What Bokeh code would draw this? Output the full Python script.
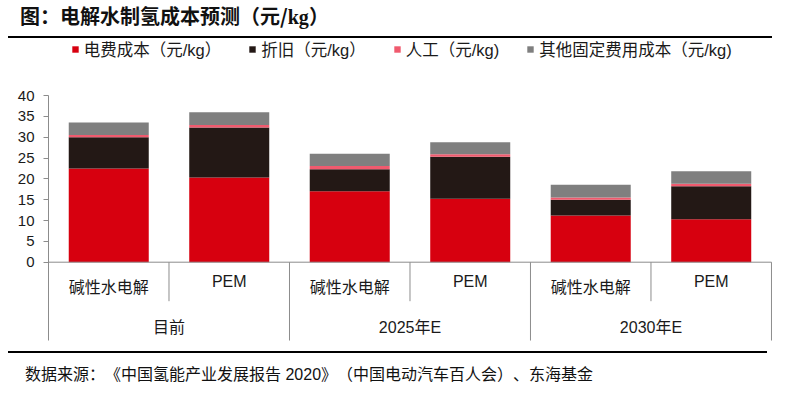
from bokeh.plotting import figure
from bokeh.models import Range1d, FixedTicker, Legend, LegendItem, Div, ColumnDataSource
from bokeh.layouts import column
from bokeh.core.properties import value
from bokeh.embed import file_html
from bokeh.resources import INLINE

# ---- data ----
groups = ["目前", "2025年E", "2030年E"]
techs = ["碱性水电解", "PEM"]
electricity = [22.5, 20.3, 17.0, 15.2, 11.2, 10.3]
depreciation = [7.5, 12.0, 5.3, 10.1, 3.8, 7.9]
labor = [0.5, 0.6, 0.8, 0.6, 0.5, 0.6]
other_fixed = [3.0, 3.1, 2.9, 2.9, 3.1, 3.0]
series_names = ["电费成本（元/kg）", "折旧（元/kg）", "人工（元/kg)", "其他固定费用成本（元/kg)"]
y_ticks = [0, 5, 10, 15, 20, 25, 30, 35, 40]
title_text = "图：电解水制氢成本预测（元/<span style=\"font-family:'Liberation Serif'\">kg</span>）"
footer_text = "数据来源：《中国氢能产业发展报告 2020》（中国电动汽车百人会）、东海基金"

colors = ["#D7000F", "#231815", "#F05A6E", "#7F7F7F"]
axis_color = "#8C8C8C"
text_color = "#1A1A1A"
FONT = "'Liberation Sans', 'Noto Sans CJK SC'"

n_tech = len(techs)
n = len(groups) * n_tech
xs = [i + 0.5 for i in range(n)]
sub_labels = [techs[i % n_tech] for i in range(n)]

src = ColumnDataSource(dict(x=xs, e=electricity, d=depreciation, l=labor, o=other_fixed))

p = figure(width=780, height=311,
           x_range=Range1d(0, n + 0.05), y_range=Range1d(-21.43, 53.2),
           x_axis_location=None, toolbar_location=None, output_backend="svg",
           min_border_left=40, min_border_right=11, min_border_top=0, min_border_bottom=0)
p.outline_line_color = None
p.grid.visible = False
p.background_fill_color = "white"
p.border_fill_color = "white"

rs = p.vbar_stack(["e", "d", "l", "o"], x="x", width=0.664, color=colors,
                  line_color=None, source=src)

ya = p.yaxis[0]
ya.bounds = (-18.8, 40)
ya.ticker = FixedTicker(ticks=y_ticks)
ya.minor_tick_line_color = None
ya.major_tick_in = 0
ya.major_tick_out = 5
ya.axis_line_color = axis_color
ya.major_tick_line_color = axis_color
ya.major_label_text_font = FONT
ya.major_label_text_font_size = "15px"
ya.major_label_text_color = text_color
ya.major_label_standoff = 9

# hand-made multi-level category axis
p.segment(x0=[0], y0=[0], x1=[n], y1=[0], line_color=axis_color, line_width=1)
sub_b = [i for i in range(1, n + 1) if i % n_tech != 0]
grp_b = [i for i in range(1, n + 1) if i % n_tech == 0]
p.segment(x0=sub_b, y0=[0] * len(sub_b), x1=sub_b, y1=[-9.36] * len(sub_b),
          line_color=axis_color, line_width=1)
p.segment(x0=grp_b, y0=[0] * len(grp_b), x1=grp_b, y1=[-18.8] * len(grp_b),
          line_color=axis_color, line_width=1)

sub_y = [-4.56 if s.isascii() else -6.14 for s in sub_labels]
p.text(x=xs, y=sub_y, text=sub_labels, text_align="center", text_baseline="middle",
       text_font=value(FONT), text_font_size="16px", text_color=text_color)
gx = [g * n_tech + n_tech / 2 for g in range(len(groups))]
p.text(x=gx, y=[-15.6] * len(groups), text=groups, text_align="center", text_baseline="middle",
       text_font=value(FONT), text_font_size="16px", text_color=text_color)

legend = Legend(items=[LegendItem(label=nm, renderers=[r]) for nm, r in zip(series_names, rs)],
                orientation="horizontal", location=(22.7, 290.3),
                glyph_width=8, glyph_height=8, label_height=8, label_standoff=5,
                spacing=27, padding=0, margin=0,
                border_line_color=None, background_fill_alpha=0,
                label_text_font=FONT, label_text_font_size="16.5px", label_text_color=text_color)
p.add_layout(legend)

title_div = Div(text=(
    "<div style=\"font-family:'Noto Sans CJK SC';font-weight:bold;font-size:20px;"
    "line-height:16px;height:30px;padding-left:12px;width:764px;text-spacing-trim:space-all;"
    "border-bottom:2px solid #000;color:#111;\">" + title_text + "</div>"),
    width=780, height=32, margin=0)

footer_div = Div(text=(
    "<div style=\"font-family:'Liberation Sans','Noto Sans CJK SC';font-size:16px;"
    "line-height:20px;padding-top:12px;padding-left:17px;width:759px;height:20px;"
    "text-spacing-trim:space-all;"
    "border-top:2px solid #000;color:#111;\">" + footer_text + "</div>"),
    width=780, height=34, margin=0)

layout = column(title_div, p, footer_div, spacing=0, margin=(8, 0, 0, 8))
open("out.html", "w").write(file_html(layout, INLINE))
